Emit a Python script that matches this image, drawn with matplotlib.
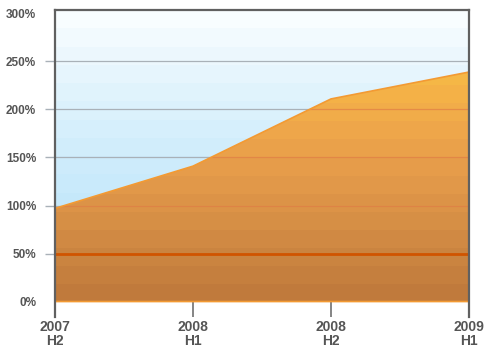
import numpy as np
import matplotlib
matplotlib.use("Agg")
import matplotlib.pyplot as plt
from matplotlib.colors import LinearSegmentedColormap

# Half-year periods and cumulative growth (%)
periods = ["2007\nH2", "2008\nH1", "2008\nH2", "2009\nH1"]
growth = [97, 141, 211, 239]
target = 50
y_ticks = [0, 50, 100, 150, 200, 250, 300]
y_labels = ["0%", "50%", "100%", "150%", "200%", "250%", "300%"]

W, H = 488, 349
fig = plt.figure(figsize=(W / 100, H / 100), dpi=100)
ax = fig.add_axes([55 / W, (H - 317) / H, (469 - 55) / W, (317 - 10) / H])
ax.set_facecolor("white")

xs = np.arange(len(periods))
y_top = 303.6
ax.set_xlim(xs[0], xs[-1])
ax.set_ylim(-16.1, y_top)

# Banded sky-blue backdrop above the zero line
sky = LinearSegmentedColormap.from_list(
    "sky", ["#b3e1fa", "#bde5fa", "#c9eafb", "#d6effc", "#e6f5fd", "#f8fdff"])
n_bg = 16
bg = np.linspace(0, 1, n_bg).reshape(-1, 1)
ax.imshow(bg, cmap=sky, aspect="auto", origin="lower", interpolation="nearest",
          extent=(xs[0], xs[-1], 0, y_top), zorder=0)

# Gray grid lines
for v in [100, 150, 200, 250]:
    ax.axhline(v, color="#a9b1b8", lw=0.9, zorder=0.5)

# Growth area with banded orange gradient
poly = ax.fill_between(xs, 0, growth, facecolor="none", edgecolor="#f39a33",
                       lw=1.2, zorder=3)
warm = LinearSegmentedColormap.from_list(
    "warm", ["#c07a3c", "#cb8541", "#d89146", "#e49a4a", "#eda44b",
             "#f4b048", "#f7bd46", "#f9c445"])
n_fg = 16
fg = np.linspace(0, 1, n_fg).reshape(-1, 1)
img = ax.imshow(fg, cmap=warm, aspect="auto", origin="lower",
                interpolation="nearest", extent=(xs[0], xs[-1], 0, 300), zorder=2)
clip = poly.get_paths()[0]
img.set_clip_path(clip, transform=ax.transData)

# Grid lines seen through the area
for v in [100, 150, 200]:
    ln = ax.axhline(v, color="#e07d45", lw=0.9, alpha=0.7, zorder=2.5)
    ln.set_clip_path(clip, transform=ax.transData)

# Target line
ax.axhline(target, color="#d05400", lw=2.0, zorder=4)

# Frame
for side in ["left", "right", "top"]:
    ax.spines[side].set_color("#606060")
    ax.spines[side].set_linewidth(1.6)
    ax.spines[side].set_zorder(5)
ax.spines["bottom"].set_visible(False)

font = dict(family=["Liberation Sans", "DejaVu Sans"], weight="bold")

ax.set_xticks(xs)
ax.set_xticklabels(periods, color="#555555", fontsize=10, linespacing=1.05, **font)
ax.tick_params(axis="x", direction="in", length=17, width=1.2, color="#707070",
               pad=2)

ax.set_yticks(y_ticks)
ax.set_yticklabels(y_labels, color="#555555", fontsize=8.5, **font)
ax.tick_params(axis="y", direction="out", length=7, width=1.0, color="#a9b1b8",
               pad=6.5)
yt = ax.yaxis.get_major_ticks()
yt[0].tick1line.set_visible(False)
yt[-1].tick1line.set_visible(False)
for t in ax.xaxis.get_major_ticks():
    t.tick1line.set_zorder(6)

fig.savefig("out.png", dpi=100)
